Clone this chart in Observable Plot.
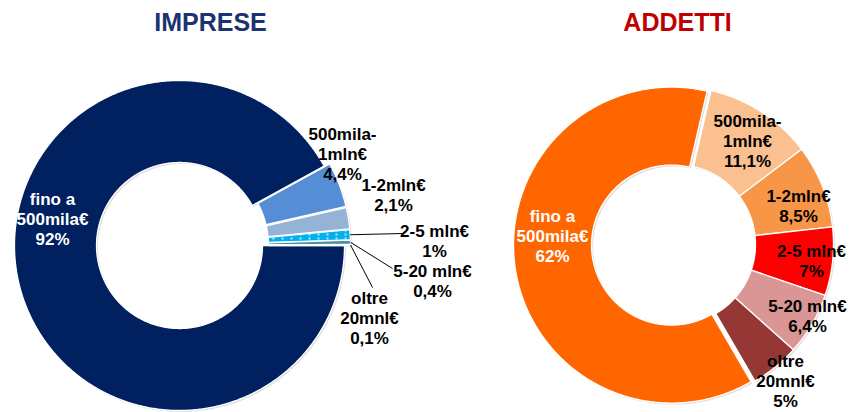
<!DOCTYPE html>
<html><head><meta charset="utf-8">
<script src="https://cdn.jsdelivr.net/npm/d3@7"></script>
<script src="https://cdn.jsdelivr.net/npm/@observablehq/plot@0.6"></script>
<style>body{margin:0;background:#fff}</style>
</head><body><div id="chart"></div>
<script>
// ---- data ----
const titles = ["IMPRESE", "ADDETTI"];
const categories = ["fino a\n500mila€", "500mila-\n1mln€", "1-2mln€", "2-5 mln€", "5-20 mln€", "oltre\n20mnl€"];
const impreseValues = [92, 4.4, 2.1, 1, 0.4, 0.1];
const impreseLabels = ["92%", "4,4%", "2,1%", "1%", "0,4%", "0,1%"];
const addettiValues = [62, 11.1, 8.5, 7, 6.4, 5];
const addettiLabels = ["62%", "11,1%", "8,5%", "7%", "6,4%", "5%"];

// ---- styles / layout ----
const impreseColors = ["#002060", "#558ED5", "#95B3D7", "url(#dots)", "#4A8FA8", "#1F497D"];
const addettiColors = ["#FF6600", "#FAC090", "#F79646", "#FF0000", "#D99694", "#953735"];
const textColors = ["#ffffff", "#000000", "#000000", "#000000", "#000000", "#000000"];

const charts = [
  {title: titles[0], titleColor: "#1B3370", tx: 210, values: impreseValues, labels: impreseLabels, colors: impreseColors,
   cx: 179, cy: 245, R: 165, r: 83, start: 90, explode: [0, 6, 6, 6, 6, 6],
   labelPos: [[-127, -27], [163, -92], [214, -51], [255, -5], [253, 35], [190, 72]],
   leaders: [null, null, null, [223, -12], [213, 23], [193, 42]]},
  {title: titles[1], titleColor: "#C00000", tx: 677, values: addettiValues, labels: addettiLabels, colors: addettiColors,
   cx: 675, cy: 244, R: 158, r: 80, start: 149.8, explode: [4, 0, 0, 0, 0, 0],
   labelPos: [[-123, -9], [72, -104], [123, -39], [136, 16], [132, 71], [110, 136]],
   leaders: [null, null, null, null, null, null]}
];

const rows = [], labelRows = [], leaderRows = [], titleRows = [];
charts.forEach((c, ci) => {
  titleRows.push({x: c.tx, y: 22, text: c.title, fill: c.titleColor});
  const s = c.start * Math.PI / 180;
  const arcs = d3.pie().sort(null).value(d => d).startAngle(s).endAngle(s + 2 * Math.PI)(c.values);
  arcs.forEach((a, i) => {
    const mid = (a.startAngle + a.endAngle) / 2;
    const ex = c.explode[i] * Math.sin(mid), ey = -c.explode[i] * Math.cos(mid);
    const n = Math.max(2, Math.ceil((a.endAngle - a.startAngle) / (Math.PI / 360)));
    const key = ci + "-" + i;
    for (let k = 0; k <= n; k++) {
      const t = a.startAngle + (a.endAngle - a.startAngle) * k / n;
      rows.push({key, color: c.colors[i], x: c.cx + ex + c.R * Math.sin(t), y: c.cy + ey - c.R * Math.cos(t)});
    }
    for (let k = n; k >= 0; k--) {
      const t = a.startAngle + (a.endAngle - a.startAngle) * k / n;
      rows.push({key, color: c.colors[i], x: c.cx + ex + c.r * Math.sin(t), y: c.cy + ey - c.r * Math.cos(t)});
    }
    labelRows.push({x: c.cx + c.labelPos[i][0], y: c.cy + c.labelPos[i][1],
      text: categories[i] + "\n" + c.labels[i], fill: textColors[i]});
    if (c.leaders[i]) {
      leaderRows.push({x1: c.cx + ex + c.R * Math.sin(mid), y1: c.cy + ey - c.R * Math.cos(mid),
        x2: c.cx + c.leaders[i][0], y2: c.cy + c.leaders[i][1]});
    }
  });
});

const plot = Plot.plot({
  width: 849, height: 412, margin: 0,
  style: {fontFamily: "'Liberation Sans', Arial, sans-serif", background: "#fff"},
  x: {domain: [0, 849], range: [0, 849], axis: null},
  y: {domain: [0, 412], range: [0, 412], axis: null},
  color: {type: "identity"},
  marks: [
    Plot.line(rows, {x: "x", y: "y", z: "key", fill: "#000", fillOpacity: 0.13, stroke: "none", curve: "linear-closed", dx: 1.5, dy: 1.5}),
    Plot.line(rows, {x: "x", y: "y", z: "key", fill: "color", stroke: "#ffffff", strokeWidth: 1.3, curve: "linear-closed"}),
    Plot.link(leaderRows, {x1: "x1", y1: "y1", x2: "x2", y2: "y2", stroke: "#000", strokeWidth: 1}),
    Plot.text(labelRows, {x: "x", y: "y", text: "text", fill: "fill", fontSize: 17, fontWeight: "bold", lineHeight: 1.2}),
    Plot.text(titleRows, {x: "x", y: "y", text: "text", fill: "fill", fontSize: 25, fontWeight: "bold"})
  ]
});
plot.insertAdjacentHTML("afterbegin",
  '<defs><pattern id="dots" patternUnits="userSpaceOnUse" width="9" height="4">' +
  '<rect width="9" height="4" fill="#00B0F0"/><circle cx="3" cy="2" r="0.9" fill="#ffffff"/></pattern></defs>');
document.getElementById("chart").appendChild(plot);
</script>
</body></html>
